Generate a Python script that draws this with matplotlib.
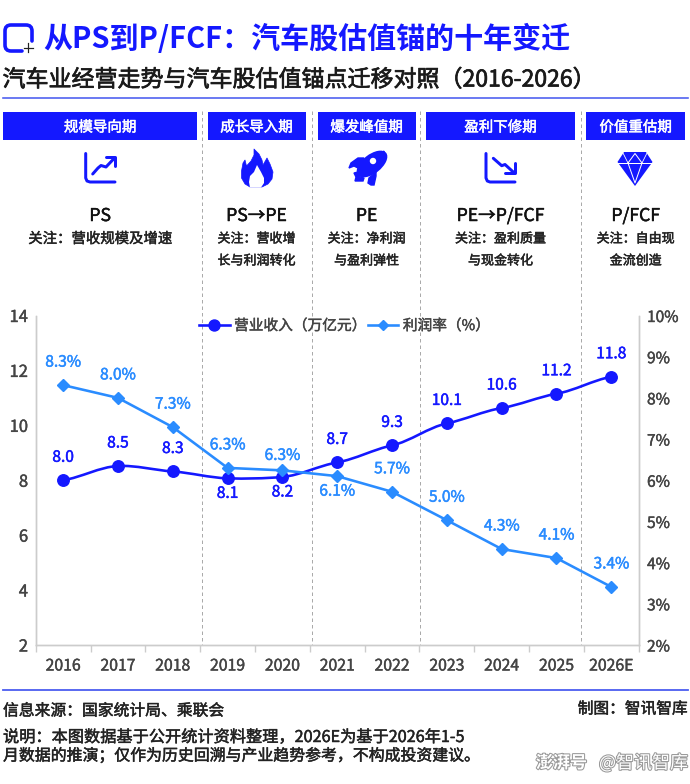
import matplotlib
matplotlib.use('Agg')
import matplotlib.pyplot as plt
import numpy as np
from matplotlib.lines import Line2D
from matplotlib.path import Path
from matplotlib.patches import PathPatch, Polygon, Rectangle, Circle, Ellipse
import matplotlib.patheffects as pe

plt.rcParams['font.family'] = ['Noto Sans CJK SC', 'DejaVu Sans']

# ---------- data ----------
years = ['2016', '2017', '2018', '2019', '2020', '2021', '2022', '2023', '2024', '2025', '2026E']
revenue = [8.0, 8.52, 8.32, 8.07, 8.12, 8.65, 9.27, 10.07, 10.63, 11.15, 11.77]
revenue_labels = ['8.0', '8.5', '8.3', '8.1', '8.2', '8.7', '9.3', '10.1', '10.6', '11.2', '11.8']
margin = [8.31, 8.0, 7.29, 6.3, 6.24, 6.1, 5.72, 5.03, 4.33, 4.11, 3.41]
margin_labels = ['8.3%', '8.0%', '7.3%', '6.3%', '6.3%', '6.1%', '5.7%', '5.0%', '4.3%', '4.1%', '3.4%']

periods = ['规模导向期', '成长导入期', '爆发峰值期', '盈利下修期', '价值重估期']
anchors = ['PS', 'PS→PE', 'PE', 'PE→P/FCF', 'P/FCF']
focus = [['关注：营收规模及增速'],
         ['关注：营收增', '长与利润转化'],
         ['关注：净利润', '与盈利弹性'],
         ['关注：盈利质量', '与现金转化'],
         ['关注：自由现', '金流创造']]

BLUE = '#1418ff'
LIGHT = '#2a8cff'
RULE = '#4a5cf0'
GREY = '#444444'

W, H = 690, 784
fig = plt.figure(figsize=(W / 100, H / 100), dpi=100, facecolor='white')

# overlay in pixel coordinates for the header, icons and footer
ov = fig.add_axes([0, 0, 1, 1], zorder=0)
ov.set_xlim(0, W)
ov.set_ylim(H, 0)
ov.axis('off')


def px(size):
    return size * 0.72


def heavy(color, width=0.35):
    # the font only comes in regular and bold, this gives the medium look
    return [pe.withStroke(linewidth=width, foreground=color)]


def stroke(pts, lw=3.0, color=BLUE):
    xs, ys = zip(*pts)
    ov.plot(xs, ys, color=color, lw=px(lw), solid_capstyle='round', solid_joinstyle='round')


# ---------- title ----------
# title icon: open rounded square and plus
r = 6
verts = [(32, 41), (32, 25 + r), (32, 25), (32 - r, 25), (5 + r, 25), (5, 25), (5, 25 + r),
         (5, 51 - r), (5, 51), (5 + r, 51), (22, 51)]
codes = [Path.MOVETO, Path.LINETO, Path.CURVE3, Path.CURVE3, Path.LINETO, Path.CURVE3, Path.CURVE3,
         Path.LINETO, Path.CURVE3, Path.CURVE3, Path.LINETO]
ov.add_patch(PathPatch(Path(verts, codes), fc='none', ec=BLUE, lw=px(3.6), capstyle='round'))
ov.plot([23.5, 32.5], [47.5, 47.5], color='#222222', lw=px(1.2))
ov.plot([28, 28], [43, 52], color='#222222', lw=px(1.2))

ov.text(43.5, 39, '从PS到P/FCF：汽车股估值锚的十年变迁', color=BLUE, fontsize=px(29), fontweight='bold',
        va='center', ha='left')
ov.text(2.5, 80, '汽车业经营走势与汽车股估值锚点迁移对照（2016-2026）', color='#1a1a1a', fontsize=px(23),
        va='center', ha='left', path_effects=heavy('#1a1a1a', 0.5))
ov.plot([3, 688], [97.5, 97.5], color=RULE, lw=px(1.6))

# ---------- period columns ----------
boxes = [(3.3, 197), (207.5, 305.5), (317.5, 415.7), (426, 575), (586.3, 685)]
focus_size = [14.4, 13, 13, 13, 13]
for (x0, x1), name, anchor, lines, fs in zip(boxes, periods, anchors, focus, focus_size):
    cx = (x0 + x1) / 2
    ov.add_patch(Rectangle((x0, 112), x1 - x0, 28, fc=BLUE, ec='none'))
    ov.text(cx, 127.5, name, color='white', fontsize=px(14.5), ha='center', va='center',
            path_effects=heavy('white'))
    ov.text(cx, 216, anchor, color='#111111', fontsize=px(17.6), ha='center', va='center',
            path_effects=heavy('#111111'))
    for i, line in enumerate(lines):
        ov.text(cx, 239 + 22 * i, line, color='#222222', fontsize=px(fs), ha='center', va='center',
                path_effects=heavy('#222222'))

for x in [202.3, 311.5, 420.3, 580.7]:
    ov.plot([x, x], [111, 645], color='#aaaaaa', lw=px(1), ls=(0, (3.5, 3)))

# up-trend icon
stroke([(85.7, 153.5), (85.7, 178), (87, 181), (90, 182), (115, 182)], 3)
stroke([(92.7, 174), (98, 168), (101, 165.5), (106, 167), (114.5, 158)], 3)
stroke([(106, 157), (115, 157), (115, 166)], 3)

# down-trend icon
stroke([(486, 153.5), (486, 178), (487.3, 181), (490, 182), (515, 182)], 3)
stroke([(493.3, 158.3), (501.7, 165.7), (505, 164.5), (514, 172.7)], 3)
stroke([(514.7, 163.3), (514.7, 172.7), (505, 172.7)], 3)

# flame icon
flame = [(254, 149), (259, 154), (262, 160), (263, 165), (267, 158), (270, 164), (273, 172), (272, 179),
         (268, 184), (262, 187), (250, 187), (245, 184), (241.5, 178), (241.5, 171), (243, 163), (245, 160),
         (246.5, 166), (251, 161), (254, 155)]
ov.add_patch(Polygon(flame, closed=True, fc=BLUE, ec=BLUE, lw=0.5, joinstyle='round'))
ov.add_patch(Polygon([(257, 165), (261, 172), (264, 178), (264, 183), (261, 187.5), (250, 187.5), (249, 182),
                      (250, 176), (254, 172)], closed=True, fc='white', ec='none'))

# rocket icon
ov.add_patch(Ellipse((372, 164), 36, 19, angle=-38, fc=BLUE, ec='none'))
ov.add_patch(Polygon([(383, 152), (384, 151), (383, 160), (376, 172), (365, 160), (375, 153)], closed=True,
                     fc=BLUE, ec=BLUE, lw=1))
ov.add_patch(Polygon([(349, 168), (351, 163), (358, 158), (364, 158), (358, 168), (354, 166)], closed=True,
                     fc=BLUE, ec=BLUE, lw=1))
ov.add_patch(Polygon([(368, 183), (369, 178), (376, 172), (376, 176), (374, 185), (371, 185)], closed=True,
                     fc=BLUE, ec=BLUE, lw=1))
ov.add_patch(Polygon([(354, 173), (358, 172), (360, 177), (364, 178), (363, 181), (358, 181), (355, 181),
                      (356, 177)], closed=True, fc=BLUE, ec=BLUE, lw=1))
ov.add_patch(Circle((373, 161), 3.2, fc='white', ec='none'))

# diamond icon
ov.add_patch(Polygon([(624, 152), (646, 152), (652.5, 162), (635, 186), (617.5, 162)], closed=True, fc=BLUE, ec='none'))
ov.plot([618, 652], [163, 163], color='white', lw=px(1))
ov.plot([628, 635, 642, 635, 628], [163, 153.5, 163, 183, 163], color='white', lw=px(1))
ov.plot([623, 628], [153, 163], color='white', lw=px(0.8))
ov.plot([647, 642], [153, 163], color='white', lw=px(0.8))

# ---------- chart ----------
ax = fig.add_axes([35.7 / W, 1 - 645 / H, 603 / W, 329.5 / H], zorder=2)
ax.patch.set_alpha(0)
ax2 = ax.twinx()
ax2.patch.set_alpha(0)
pos = np.arange(len(years))
ax.set_xlim(-0.5, len(years) - 0.5)
ax.set_ylim(2, 14)
ax2.set_ylim(2, 10)
ax.set_yticks(range(2, 15, 2))
ax2.set_yticks(range(2, 11))
ax2.set_yticklabels([f'{v}%' for v in range(2, 11)])
ax.set_xticks(pos)
ax.set_xticklabels(years)
ax.set_xticks(np.arange(len(years) + 1) - 0.5, minor=True)
ax.tick_params(axis='x', which='major', length=0, pad=9, labelsize=px(15.8), labelcolor=GREY)
ax.tick_params(axis='x', which='minor', length=5, width=1, color='#cccccc')
ax.tick_params(axis='y', length=0, pad=5.5, labelsize=px(16.5), labelcolor=GREY)
ax2.tick_params(axis='y', length=0, pad=6, labelsize=px(15.5), labelcolor=GREY)
for a in (ax, ax2):
    a.spines['top'].set_visible(False)
    for s in ('left', 'right', 'bottom'):
        a.spines[s].set_color('#cccccc')
        a.spines[s].set_linewidth(1.0)
for lab in ax.get_xticklabels() + ax.get_yticklabels() + ax2.get_yticklabels():
    lab.set_path_effects(heavy(GREY, 0.3))

# revenue is a lightly smoothed line
y = np.array(revenue)
tang = np.gradient(y) * 0.6
verts = [(pos[0], y[0])]
codes = [Path.MOVETO]
for i in range(len(y) - 1):
    verts += [(pos[i] + 0.33, y[i] + tang[i] * 0.33), (pos[i + 1] - 0.33, y[i + 1] - tang[i + 1] * 0.33),
              (pos[i + 1], y[i + 1])]
    codes += [Path.CURVE4] * 3
ax.add_patch(PathPatch(Path(verts, codes), fc='none', ec=BLUE, lw=px(2.6), zorder=3))
ax.plot(pos, revenue, ls='none', marker='o', ms=px(11.5), color=BLUE, mec=BLUE, zorder=4)
ax2.plot(pos, margin, color=LIGHT, lw=px(2.6), marker='D', ms=px(8.5), mec=LIGHT, zorder=3)

below_rev = {3, 4}
for i, lab in enumerate(revenue_labels):
    off = -15 if i in below_rev else 23
    ax.annotate(lab, (pos[i], revenue[i]), xytext=(0, px(off)), textcoords='offset points', ha='center',
                va='center', color=BLUE, fontsize=px(15.5), path_effects=heavy(BLUE))
for i, lab in enumerate(margin_labels):
    off = {4: 15, 5: -15}.get(i, 23)
    ax2.annotate(lab, (pos[i], margin[i]), xytext=(0, px(off)), textcoords='offset points', ha='center',
                 va='center', color=LIGHT, fontsize=px(15.5), path_effects=heavy(LIGHT))

handles = [Line2D([], [], color=BLUE, lw=px(2.6), marker='o', ms=px(11)),
           Line2D([], [], color=LIGHT, lw=px(2.6), marker='D', ms=px(7))]
leg = ax2.legend(handles, ['营业收入（万亿元）', '利润率（%）'], ncol=2, frameon=False, loc='center',
                 bbox_to_anchor=((344.5 - 35.7) / 603, 1 - (326 - 315.5) / 329.5), fontsize=px(14.7),
                 handlelength=2.1, handletextpad=0.3, columnspacing=0.05, labelcolor=GREY, borderpad=0)
for t in leg.get_texts():
    t.set_path_effects(heavy(GREY, 0.3))

# ---------- footer ----------
ov.plot([3, 688], [690, 690], color=RULE, lw=px(1.8))
INK = '#222222'
ov.text(3, 711, '信息来源：国家统计局、乘联会', color=INK, fontsize=px(15.8), va='center', path_effects=heavy(INK))
ov.text(688, 709, '制图：智讯智库', color=INK, fontsize=px(15.7), va='center', ha='right', path_effects=heavy(INK))
ov.text(3, 737.5, '说明：本图数据基于公开统计资料整理，2026E为基于2026年1-5', color=INK, fontsize=px(16.2),
        va='center', path_effects=heavy(INK))
ov.text(3, 756, '月数据的推演；仅作为历史回溯与产业趋势参考，不构成投资建议。', color=INK, fontsize=px(15.9),
        va='center', path_effects=heavy(INK))
mark = [pe.withStroke(linewidth=1.5, foreground='#999999')]
ov.text(536, 763, '澎湃号', color='white', fontsize=px(17), fontweight='bold', style='italic', va='center',
        path_effects=mark)
ov.text(688, 763, '@智讯智库', color='white', fontsize=px(18), va='center', ha='right', path_effects=mark)

fig.savefig('out.png', dpi=100)
